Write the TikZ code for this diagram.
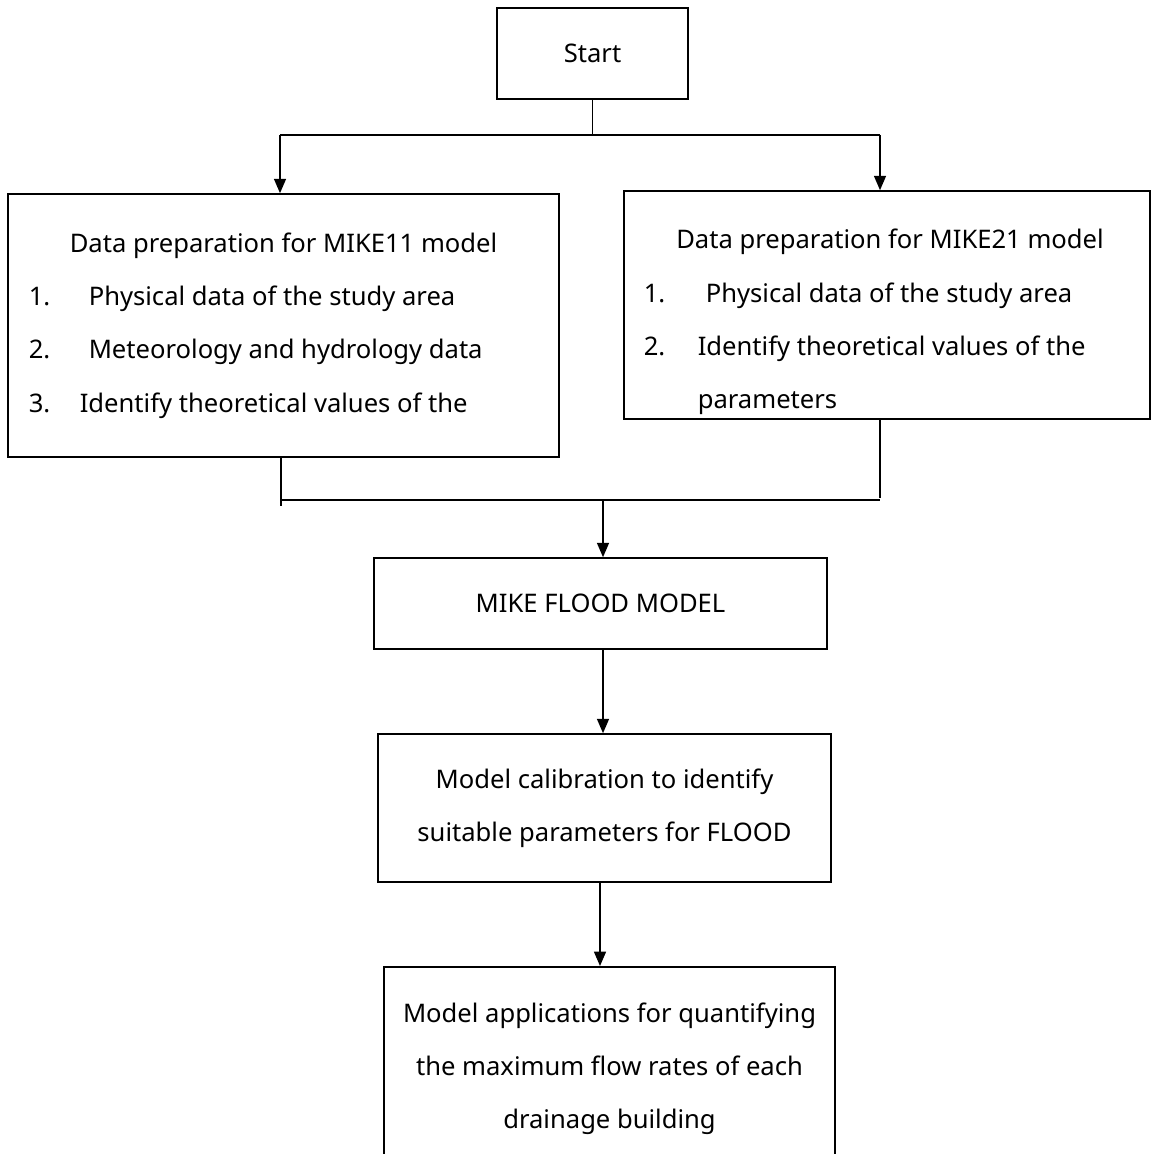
\documentclass[tikz,border=0pt]{standalone}
\usepackage{fontspec}
\setmainfont{Noto Sans}
\usetikzlibrary{arrows.meta}

\begin{document}
\begin{tikzpicture}[x=0.025cm,y=-0.025cm,>={Triangle[width=0.3cm,length=0.36cm]},
  line width=1.1pt,
  box/.style={draw,inner sep=0pt,align=center,font=\fontsize{18.2}{37.7}\selectfont},
  txt/.style={inner sep=0pt,font=\fontsize{18.2}{20}\selectfont},
  item/.style={txt,anchor=base west}]
  \clip (0,0) rectangle (1151,1154);
  % boxes
  \node[box,minimum width=4.775cm,minimum height=2.275cm] (start) at (592.5,53.5) {Start};
  \node[box,minimum width=13.775cm,minimum height=6.575cm] (mike11) at (283.5,325.5) {};
  \node[box,minimum width=13.15cm,minimum height=5.7cm] (mike21) at (887,305) {};
  \node[box,minimum width=11.325cm,minimum height=2.275cm] (flood) at (600.5,603.5) {MIKE FLOOD MODEL};
  \node[box,minimum width=11.325cm,minimum height=3.7cm] (calib) at (604.5,808)
    {Model calibration to identify\\suitable parameters for FLOOD};
  \node[box,anchor=north,minimum width=11.275cm,minimum height=6cm] (apps) at (609.5,966) {};
  % texts of the data boxes
  \node[txt] (t11) at (283.5,246) {Data preparation for MIKE11 model};
  \node[item] (n11a) at (28,306) {1.};
  \node[item] (i11a) at (88,306) {Physical data of the study area};
  \node[item] (n11b) at (28,359) {2.};
  \node[item] (i11b) at (88,359) {Meteorology and hydrology data};
  \node[item] (n11c) at (28,412) {3.};
  \node[item] (i11c) at (79,412) {Identify theoretical values of the};
  \node[txt] (t21) at (890,242) {Data preparation for MIKE21 model};
  \node[item] (n21a) at (643,303) {1.};
  \node[item] (i21a) at (705,303) {Physical data of the study area};
  \node[item] (n21b) at (643,356) {2.};
  \node[item] (i21b) at (697,356) {Identify theoretical values of the};
  \node[item] (i21c) at (697,408) {parameters};
  \node[box,draw=none] (tapps) at (609.5,1069)
    {Model applications for quantifying\\the maximum flow rates of each\\drainage building};
  % connectors
  \coordinate (splitL) at (280,135);
  \coordinate (splitR) at (880,135);
  \draw (start.south) -- (start.south |- splitL);
  \draw (splitL) -- (splitR);
  \draw[->] (splitL) -- (splitL |- mike11.north);
  \draw[->] (splitR) -- (splitR |- mike21.north);
  \coordinate (joinL) at (281,500);
  \coordinate (joinR) at (880,500);
  \coordinate (joinM) at (603,500);
  \coordinate (lastM) at (600,900);
  \draw (joinL |- mike11.south) -- ++(0,48);
  \draw (joinL) -- (joinR);
  \draw (joinR |- mike21.south) -- ++(0,78);
  \draw[->] (joinM) -- (joinM |- flood.north);
  \draw[->] (flood.south -| joinM) -- (joinM |- calib.north);
  \draw[->] (lastM |- calib.south) -- (lastM |- apps.north);
\end{tikzpicture}
\end{document}
